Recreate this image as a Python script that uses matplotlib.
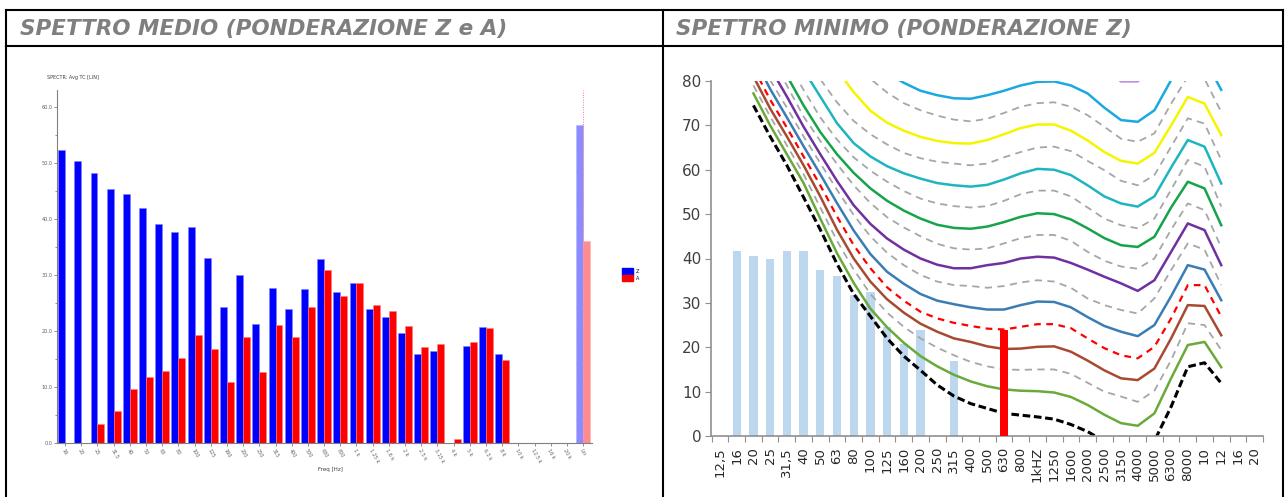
import numpy as np
import matplotlib.pyplot as plt
from matplotlib.lines import Line2D
from matplotlib.patches import Patch

W, H = 1287, 497

# ---- left chart data (spettro medio) ----
freq_left = ["16", "20", "25", "31.5", "40", "50", "63", "80", "100", "125", "160",
             "200", "250", "315", "400", "500", "630", "800", "1 k", "1.25 k", "1.6 k",
             "2 k", "2.5 k", "3.15 k", "4 k", "5 k", "6.3 k", "8 k", "10 k", "12.5 k",
             "16 k", "20 k", "Lin"]
nan = np.nan
spec_z = [52.3, 50.4, 48.2, 45.4, 44.5, 41.9, 39.0, 37.7, 38.5, 33.0, 24.3, 30.0, 21.2,
          27.6, 23.9, 27.4, 32.8, 27.0, 28.6, 23.9, 22.4, 19.7, 15.9, 16.4, nan, 17.4,
          20.7, 15.9, nan, nan, nan, nan, 56.7]
spec_a = [nan, nan, 3.4, 5.8, 9.6, 11.7, 12.8, 15.2, 19.3, 16.8, 10.9, 19.0, 12.6,
          21.0, 19.0, 24.3, 30.9, 26.2, 28.6, 24.7, 23.5, 20.9, 17.1, 17.6, 0.8, 18.0,
          20.6, 14.8, nan, nan, nan, nan, 36.1]

# ---- right chart data (spettro minimo + isofoniche) ----
freq_right = ["12,5", "16", "20", "25", "31,5", "40", "50", "63", "80", "100", "125",
              "160", "200", "250", "315", "400", "500", "630", "800", "1kHZ", "1250",
              "1600", "2000", "2500", "3150", "4000", "5000", "6300", "8000", "10", "12",
              "16", "20"]
spec_min = [nan, 41.7, 40.5, 39.8, 41.7, 41.7, 37.4, 36.0, 31.8, 32.5, 24.5, 20.7, 24.0,
            nan, 17.0, nan, nan, nan, nan, nan, nan, nan, nan, nan, nan, nan, nan, nan,
            nan, nan, nan, nan, nan]
spec_min_rossa = [nan] * 17 + [23.9] + [nan] * 15

# isofoniche, valori da 20 Hz (indice 2) a 12.5 kHz (indice 30)
soglia = [74.5, 67.5, 61.0, 53.8, 46.5, 38.8, 32.0, 27.0, 22.0, 18.0, 14.8, 11.5, 9.0,
          7.3, 6.2, 5.1, 4.7, 4.3, 3.8, 2.6, 1.0, -1.2, -3.6, -3.9, -1.1, 6.6, 15.6, 16.5, 11.9]
phon10 = [77.2, 70.0, 63.5, 57.0, 49.0, 41.2, 34.5, 28.7, 24.5, 21.0, 18.0, 15.7, 13.8,
          12.3, 11.2, 10.5, 10.2, 10.1, 9.8, 8.8, 7.0, 4.8, 2.9, 2.3, 5.1, 13.0, 20.5, 21.2, 15.5]
phon15 = [79.0, 72.0, 65.5, 59.0, 51.5, 44.0, 37.5, 32.0, 27.8, 24.6, 22.0, 19.9, 18.2,
          16.7, 15.7, 15.0, 14.9, 15.0, 15.0, 14.0, 12.0, 10.0, 8.9, 7.7, 10.2, 17.1, 25.4, 25.0, 19.4]
phon20 = [81.0, 73.8, 67.5, 61.0, 54.0, 46.5, 40.0, 34.8, 30.8, 27.8, 25.3, 23.5, 22.0,
          21.2, 20.2, 19.6, 19.7, 20.1, 20.2, 19.0, 17.0, 14.8, 13.0, 12.6, 15.2, 22.0, 29.5, 29.3, 22.7]
phon25 = [83.0, 75.8, 69.5, 63.0, 56.5, 49.5, 43.0, 37.8, 33.5, 30.5, 28.0, 26.5, 25.5,
          24.8, 24.2, 24.0, 24.6, 25.2, 25.2, 24.3, 22.0, 19.8, 18.2, 17.5, 20.1, 26.5, 34.0, 34.0, 26.9]
phon30 = [85.5, 78.2, 71.8, 65.3, 59.0, 52.5, 46.3, 41.0, 37.0, 34.3, 32.0, 30.5, 29.7,
          29.0, 28.5, 28.5, 29.5, 30.3, 30.2, 29.0, 26.8, 24.8, 23.5, 22.5, 25.0, 31.5, 38.5, 37.5, 30.6]
phon35 = [88.0, 80.2, 74.0, 67.5, 61.5, 55.5, 49.8, 45.0, 41.3, 38.5, 36.3, 34.8, 34.0,
          33.8, 33.4, 33.8, 34.6, 35.1, 34.8, 33.4, 31.0, 29.5, 28.4, 27.6, 31.0, 37.4, 43.4, 42.0, 34.0]
phon40 = [90.0, 83.0, 76.5, 69.7, 63.5, 57.5, 52.0, 47.8, 44.5, 42.0, 40.0, 38.6, 37.8,
          37.8, 38.5, 39.0, 40.0, 40.4, 40.2, 39.0, 37.5, 35.9, 34.4, 32.7, 35.1, 41.5, 47.9, 46.4, 38.5]
phon45 = [92.0, 85.5, 79.0, 72.0, 66.5, 61.3, 56.5, 52.5, 49.3, 47.0, 45.0, 43.3, 42.3,
          42.0, 42.3, 43.4, 44.6, 45.3, 45.3, 44.0, 41.5, 39.5, 38.2, 37.7, 40.0, 46.5, 52.4, 50.9, 42.5]
phon50 = [94.0, 88.0, 81.2, 74.5, 68.5, 63.5, 59.3, 55.8, 53.0, 50.8, 49.0, 47.6, 46.9,
          46.7, 47.2, 48.2, 49.4, 50.2, 50.0, 48.8, 46.8, 44.6, 43.0, 42.6, 44.9, 51.5, 57.3, 55.8, 47.5]
phon55 = [96.0, 91.0, 84.5, 78.0, 71.8, 66.8, 62.8, 59.8, 57.3, 55.2, 53.5, 52.4, 51.8,
          51.5, 51.8, 53.0, 54.5, 55.3, 55.3, 54.0, 51.5, 49.0, 47.5, 46.8, 49.0, 55.5, 62.2, 60.7, 51.7]
phon60 = [98.0, 93.5, 88.0, 82.5, 76.5, 70.5, 66.0, 63.0, 60.8, 59.2, 58.0, 57.0, 56.5,
          56.2, 56.6, 57.8, 59.2, 60.2, 60.0, 58.8, 56.5, 54.0, 52.4, 51.7, 54.0, 60.5, 66.7, 65.2, 56.9]
phon65 = [100.0, 96.0, 91.5, 86.0, 80.4, 75.2, 71.0, 68.0, 65.7, 63.8, 62.6, 61.8, 61.4,
          61.0, 61.4, 62.8, 64.0, 65.0, 65.2, 64.2, 62.0, 59.9, 57.5, 56.5, 58.8, 65.2, 71.6, 70.4, 62.2]
phon70 = [102.0, 98.0, 94.0, 90.0, 86.5, 82.5, 77.5, 73.3, 70.6, 68.8, 67.4, 66.5, 66.0,
          65.9, 66.7, 68.0, 69.4, 70.2, 70.2, 68.8, 66.6, 64.0, 62.0, 61.4, 63.8, 70.0, 76.4, 74.9, 67.8]
phon75 = [104.0, 100.0, 96.0, 92.0, 89.0, 86.0, 83.0, 80.5, 77.4, 75.0, 73.4, 72.2, 71.3,
          70.9, 71.5, 72.8, 74.2, 75.0, 75.2, 74.2, 72.3, 69.7, 67.0, 66.3, 68.2, 74.9, 81.0, 80.5, 73.0]
phon80 = [106.0, 102.0, 98.0, 94.0, 92.0, 90.0, 88.0, 85.2, 81.8, 79.6, 77.8, 76.8, 76.1,
          76.0, 76.8, 77.8, 79.0, 79.8, 79.9, 79.0, 77.2, 74.0, 71.2, 70.8, 73.4, 80.2, 86.0, 85.0, 78.0]
# tratto visibile della curva a 90 phon (indici 22-26)
phon90 = [86.0, 83.0, 79.9, 79.9, 83.0]

GRAY_DASH = dict(color="#a6a6a6", lw=1.3, ls=(0, (4, 3)))
curves = [
    (soglia, dict(color="black", lw=2.2, ls=(0, (2.5, 1.2)))),
    (phon10, dict(color="#6aaa3a", lw=1.8)),
    (phon15, GRAY_DASH),
    (phon20, dict(color="#a84a32", lw=1.8)),
    (phon25, dict(color="#ff0000", lw=1.6, ls=(0, (3, 2.5)))),
    (phon30, dict(color="#3a7db5", lw=1.8)),
    (phon35, GRAY_DASH),
    (phon40, dict(color="#7030a0", lw=1.8)),
    (phon45, GRAY_DASH),
    (phon50, dict(color="#17a34a", lw=1.8)),
    (phon55, GRAY_DASH),
    (phon60, dict(color="#1fb5c0", lw=1.8)),
    (phon65, GRAY_DASH),
    (phon70, dict(color="#f5f500", lw=1.8)),
    (phon75, GRAY_DASH),
    (phon80, dict(color="#1ca8e0", lw=1.8)),
]


def fx(px):
    return px / W


def fy(py):
    return 1 - py / H


fig = plt.figure(figsize=(W / 100, H / 100), dpi=100)

# table frame
for x0, y0, x1, y1 in [(6, 10, 1283, 10), (6, 46, 1283, 46), (6, 10, 6, 497),
                       (663, 10, 663, 497), (1283, 10, 1283, 497)]:
    fig.add_artist(Line2D([fx(x0), fx(x1)], [fy(y0), fy(y1)], color="black", lw=1.5))

title_kw = dict(fontsize=15.5, fontweight="bold", style="italic", color="#7f7f7f",
                va="center", ha="left", family=["DejaVu Sans"])
fig.text(fx(20), fy(29), "SPETTRO MEDIO (PONDERAZIONE Z e A)", **title_kw)
fig.text(fx(676), fy(29), "SPETTRO MINIMO (PONDERAZIONE Z)", **title_kw)

# ---- left chart ----
axL = fig.add_axes([fx(57), fy(443), fx(592) - fx(57), (443 - 90) / H])
xl = np.arange(len(freq_left))
bw = 0.43
axL.bar(xl[:-1] - bw / 2, spec_z[:-1], bw, color="#0000ff", edgecolor="#8080ff", lw=0.4)
axL.bar(xl[:-1] + bw / 2, spec_a[:-1], bw, color="#ff0000", edgecolor="#ff8080", lw=0.4)
axL.bar(xl[-1] - bw / 2, spec_z[-1], bw, color="#8c8cff", edgecolor="#b0b0ff", lw=0.4)
axL.bar(xl[-1] + bw / 2, spec_a[-1], bw, color="#ff8c8c", edgecolor="#ffb0b0", lw=0.4)
axL.axvline(xl[-1], color="#ff70b0", lw=0.7, ls=(0, (1, 1.5)), zorder=3)
axL.set_xlim(-0.5, 32.55)
axL.set_ylim(0, 63)
axL.set_yticks(np.arange(0, 61, 10))
axL.set_yticklabels([f"{v:.1f}" for v in range(0, 61, 10)])
axL.set_yticks(np.arange(5, 61, 10), minor=True)
axL.set_xticks(xl)
axL.set_xticklabels(freq_left, rotation=-60, ha="left", rotation_mode="anchor")
axL.tick_params(labelsize=3.5, colors="#606060", length=2, width=0.5, pad=1.5)
axL.tick_params(which="minor", length=1.5, width=0.5, colors="#606060")
for s in ["top", "right"]:
    axL.spines[s].set_visible(False)
for s in ["left", "bottom"]:
    axL.spines[s].set_color("#808080")
    axL.spines[s].set_linewidth(0.8)
fig.text(fx(47), fy(78), "SPECTR: Avg TC [LIN]", fontsize=3.5, color="#404040", va="center")
fig.text(fx(318), fy(470), "Freq [Hz]", fontsize=4, color="#404040", va="center")
fig.legend([Patch(color="#0000ff"), Patch(color="#ff0000")], ["Z", "A"],
           loc="upper left", bbox_to_anchor=(fx(620), fy(266)), fontsize=3.5,
           frameon=False, handlelength=2.2, handleheight=1.6, labelspacing=0.05,
           borderpad=0, handletextpad=0.5)

# ---- right chart ----
axR = fig.add_axes([fx(711), fy(436), fx(1263) - fx(711), (436 - 81) / H])
xr = np.arange(len(freq_right))
axR.bar(xr, spec_min, 0.5, color="#bdd7ee", zorder=1)
xc = np.arange(2, 31)
for vals, kw in curves:
    axR.plot(xc, vals, zorder=2, **kw)
axR.plot(np.arange(22, 27), phon90, color="#c48ee6", lw=1.8, zorder=2)
axR.bar(xr, spec_min_rossa, 0.48, color="#ff0000", zorder=4)
axR.set_xlim(-0.54, 32.48)
axR.set_ylim(0, 80)
axR.set_yticks(np.arange(0, 81, 10))
axR.set_xticks(xr)
axR.set_xticklabels(freq_right, rotation=90, va="top", ha="center", fontsize=9.5,
                    color="#262626")
axR.set_xticks(np.arange(-0.5, 33, 1), minor=True)
axR.tick_params(axis="x", which="major", length=0, pad=8)
axR.tick_params(axis="x", which="minor", length=4, color="#909090", width=0.8)
axR.tick_params(axis="y", length=4, color="#909090", width=0.8, pad=3)
for lab in axR.get_yticklabels():
    lab.set_fontfamily(["Liberation Sans Narrow", "DejaVu Sans"])
    lab.set_fontsize(11)
    lab.set_color("#404040")
for s in ["top", "right"]:
    axR.spines[s].set_visible(False)
for s in ["left", "bottom"]:
    axR.spines[s].set_color("#909090")
    axR.spines[s].set_linewidth(1.2)

fig.savefig("out.png", dpi=100)
